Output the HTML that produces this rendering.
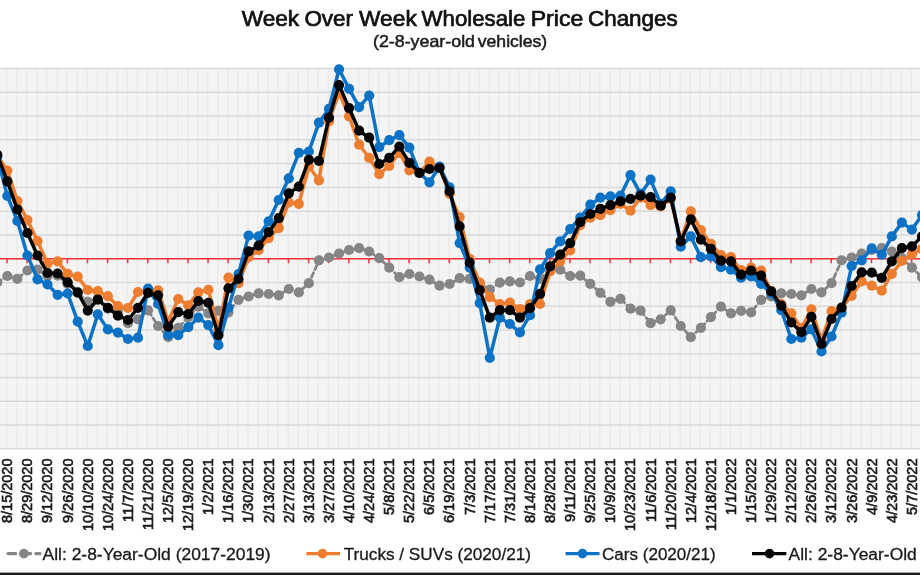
<!DOCTYPE html>
<html><head><meta charset="utf-8"><title>Week Over Week Wholesale Price Changes</title>
<style>
html,body{margin:0;padding:0;background:#fff;}
body{width:920px;height:575px;overflow:hidden;font-family:"Liberation Sans",sans-serif;}
svg{display:block;filter:blur(0.45px);}
text{font-family:"Liberation Sans",sans-serif;fill:#1a1a1a;}
</style></head><body>
<svg width="920" height="575" viewBox="0 0 920 575">
<defs>
<pattern id="hatch" width="2" height="2" patternUnits="userSpaceOnUse"><rect width="2" height="2" fill="#f7f7f7"/><rect x="0" y="0" width="1" height="1" fill="#f1f1f1"/><rect x="1" y="1" width="1" height="1" fill="#f1f1f1"/></pattern>
</defs>
<rect x="0" y="0" width="920" height="575" fill="#ffffff"/>
<rect x="0" y="68.6" width="920" height="380.1" fill="url(#hatch)"/>
<g stroke="#eaeaea" stroke-width="1.4">
<line x1="-3.30" y1="68.6" x2="-3.30" y2="448.7"/><line x1="6.75" y1="68.6" x2="6.75" y2="448.7"/><line x1="16.80" y1="68.6" x2="16.80" y2="448.7"/><line x1="26.85" y1="68.6" x2="26.85" y2="448.7"/><line x1="36.90" y1="68.6" x2="36.90" y2="448.7"/><line x1="46.95" y1="68.6" x2="46.95" y2="448.7"/><line x1="57.01" y1="68.6" x2="57.01" y2="448.7"/><line x1="67.06" y1="68.6" x2="67.06" y2="448.7"/><line x1="77.11" y1="68.6" x2="77.11" y2="448.7"/><line x1="87.16" y1="68.6" x2="87.16" y2="448.7"/><line x1="97.21" y1="68.6" x2="97.21" y2="448.7"/><line x1="107.26" y1="68.6" x2="107.26" y2="448.7"/><line x1="117.31" y1="68.6" x2="117.31" y2="448.7"/><line x1="127.36" y1="68.6" x2="127.36" y2="448.7"/><line x1="137.41" y1="68.6" x2="137.41" y2="448.7"/><line x1="147.46" y1="68.6" x2="147.46" y2="448.7"/><line x1="157.52" y1="68.6" x2="157.52" y2="448.7"/><line x1="167.57" y1="68.6" x2="167.57" y2="448.7"/><line x1="177.62" y1="68.6" x2="177.62" y2="448.7"/><line x1="187.67" y1="68.6" x2="187.67" y2="448.7"/><line x1="197.72" y1="68.6" x2="197.72" y2="448.7"/><line x1="207.77" y1="68.6" x2="207.77" y2="448.7"/><line x1="217.82" y1="68.6" x2="217.82" y2="448.7"/><line x1="227.87" y1="68.6" x2="227.87" y2="448.7"/><line x1="237.92" y1="68.6" x2="237.92" y2="448.7"/><line x1="247.97" y1="68.6" x2="247.97" y2="448.7"/><line x1="258.02" y1="68.6" x2="258.02" y2="448.7"/><line x1="268.08" y1="68.6" x2="268.08" y2="448.7"/><line x1="278.13" y1="68.6" x2="278.13" y2="448.7"/><line x1="288.18" y1="68.6" x2="288.18" y2="448.7"/><line x1="298.23" y1="68.6" x2="298.23" y2="448.7"/><line x1="308.28" y1="68.6" x2="308.28" y2="448.7"/><line x1="318.33" y1="68.6" x2="318.33" y2="448.7"/><line x1="328.38" y1="68.6" x2="328.38" y2="448.7"/><line x1="338.43" y1="68.6" x2="338.43" y2="448.7"/><line x1="348.48" y1="68.6" x2="348.48" y2="448.7"/><line x1="358.54" y1="68.6" x2="358.54" y2="448.7"/><line x1="368.59" y1="68.6" x2="368.59" y2="448.7"/><line x1="378.64" y1="68.6" x2="378.64" y2="448.7"/><line x1="388.69" y1="68.6" x2="388.69" y2="448.7"/><line x1="398.74" y1="68.6" x2="398.74" y2="448.7"/><line x1="408.79" y1="68.6" x2="408.79" y2="448.7"/><line x1="418.84" y1="68.6" x2="418.84" y2="448.7"/><line x1="428.89" y1="68.6" x2="428.89" y2="448.7"/><line x1="438.94" y1="68.6" x2="438.94" y2="448.7"/><line x1="448.99" y1="68.6" x2="448.99" y2="448.7"/><line x1="459.05" y1="68.6" x2="459.05" y2="448.7"/><line x1="469.10" y1="68.6" x2="469.10" y2="448.7"/><line x1="479.15" y1="68.6" x2="479.15" y2="448.7"/><line x1="489.20" y1="68.6" x2="489.20" y2="448.7"/><line x1="499.25" y1="68.6" x2="499.25" y2="448.7"/><line x1="509.30" y1="68.6" x2="509.30" y2="448.7"/><line x1="519.35" y1="68.6" x2="519.35" y2="448.7"/><line x1="529.40" y1="68.6" x2="529.40" y2="448.7"/><line x1="539.45" y1="68.6" x2="539.45" y2="448.7"/><line x1="549.50" y1="68.6" x2="549.50" y2="448.7"/><line x1="559.56" y1="68.6" x2="559.56" y2="448.7"/><line x1="569.61" y1="68.6" x2="569.61" y2="448.7"/><line x1="579.66" y1="68.6" x2="579.66" y2="448.7"/><line x1="589.71" y1="68.6" x2="589.71" y2="448.7"/><line x1="599.76" y1="68.6" x2="599.76" y2="448.7"/><line x1="609.81" y1="68.6" x2="609.81" y2="448.7"/><line x1="619.86" y1="68.6" x2="619.86" y2="448.7"/><line x1="629.91" y1="68.6" x2="629.91" y2="448.7"/><line x1="639.96" y1="68.6" x2="639.96" y2="448.7"/><line x1="650.01" y1="68.6" x2="650.01" y2="448.7"/><line x1="660.07" y1="68.6" x2="660.07" y2="448.7"/><line x1="670.12" y1="68.6" x2="670.12" y2="448.7"/><line x1="680.17" y1="68.6" x2="680.17" y2="448.7"/><line x1="690.22" y1="68.6" x2="690.22" y2="448.7"/><line x1="700.27" y1="68.6" x2="700.27" y2="448.7"/><line x1="710.32" y1="68.6" x2="710.32" y2="448.7"/><line x1="720.37" y1="68.6" x2="720.37" y2="448.7"/><line x1="730.42" y1="68.6" x2="730.42" y2="448.7"/><line x1="740.47" y1="68.6" x2="740.47" y2="448.7"/><line x1="750.52" y1="68.6" x2="750.52" y2="448.7"/><line x1="760.58" y1="68.6" x2="760.58" y2="448.7"/><line x1="770.63" y1="68.6" x2="770.63" y2="448.7"/><line x1="780.68" y1="68.6" x2="780.68" y2="448.7"/><line x1="790.73" y1="68.6" x2="790.73" y2="448.7"/><line x1="800.78" y1="68.6" x2="800.78" y2="448.7"/><line x1="810.83" y1="68.6" x2="810.83" y2="448.7"/><line x1="820.88" y1="68.6" x2="820.88" y2="448.7"/><line x1="830.93" y1="68.6" x2="830.93" y2="448.7"/><line x1="840.98" y1="68.6" x2="840.98" y2="448.7"/><line x1="851.03" y1="68.6" x2="851.03" y2="448.7"/><line x1="861.09" y1="68.6" x2="861.09" y2="448.7"/><line x1="871.14" y1="68.6" x2="871.14" y2="448.7"/><line x1="881.19" y1="68.6" x2="881.19" y2="448.7"/><line x1="891.24" y1="68.6" x2="891.24" y2="448.7"/><line x1="901.29" y1="68.6" x2="901.29" y2="448.7"/><line x1="911.34" y1="68.6" x2="911.34" y2="448.7"/><line x1="921.39" y1="68.6" x2="921.39" y2="448.7"/><line x1="931.44" y1="68.6" x2="931.44" y2="448.7"/>
</g>
<g stroke="#d9d9d9" stroke-width="1.5">
<line x1="0" y1="68.60" x2="920" y2="68.60"/><line x1="0" y1="92.36" x2="920" y2="92.36"/><line x1="0" y1="116.11" x2="920" y2="116.11"/><line x1="0" y1="139.87" x2="920" y2="139.87"/><line x1="0" y1="163.62" x2="920" y2="163.62"/><line x1="0" y1="187.38" x2="920" y2="187.38"/><line x1="0" y1="211.14" x2="920" y2="211.14"/><line x1="0" y1="234.89" x2="920" y2="234.89"/><line x1="0" y1="258.65" x2="920" y2="258.65"/><line x1="0" y1="282.41" x2="920" y2="282.41"/><line x1="0" y1="306.16" x2="920" y2="306.16"/><line x1="0" y1="329.92" x2="920" y2="329.92"/><line x1="0" y1="353.68" x2="920" y2="353.68"/><line x1="0" y1="377.43" x2="920" y2="377.43"/><line x1="0" y1="401.19" x2="920" y2="401.19"/><line x1="0" y1="424.94" x2="920" y2="424.94"/><line x1="0" y1="448.70" x2="920" y2="448.70"/>
</g>
<g stroke="#f93039" stroke-width="1.5"><line x1="0" y1="258.7" x2="920" y2="258.7"/><line x1="7.05" y1="258.7" x2="7.05" y2="263.2"/><line x1="27.15" y1="258.7" x2="27.15" y2="263.2"/><line x1="47.25" y1="258.7" x2="47.25" y2="263.2"/><line x1="67.36" y1="258.7" x2="67.36" y2="263.2"/><line x1="87.46" y1="258.7" x2="87.46" y2="263.2"/><line x1="107.56" y1="258.7" x2="107.56" y2="263.2"/><line x1="127.66" y1="258.7" x2="127.66" y2="263.2"/><line x1="147.76" y1="258.7" x2="147.76" y2="263.2"/><line x1="167.87" y1="258.7" x2="167.87" y2="263.2"/><line x1="187.97" y1="258.7" x2="187.97" y2="263.2"/><line x1="208.07" y1="258.7" x2="208.07" y2="263.2"/><line x1="228.17" y1="258.7" x2="228.17" y2="263.2"/><line x1="248.27" y1="258.7" x2="248.27" y2="263.2"/><line x1="268.38" y1="258.7" x2="268.38" y2="263.2"/><line x1="288.48" y1="258.7" x2="288.48" y2="263.2"/><line x1="308.58" y1="258.7" x2="308.58" y2="263.2"/><line x1="328.68" y1="258.7" x2="328.68" y2="263.2"/><line x1="348.78" y1="258.7" x2="348.78" y2="263.2"/><line x1="368.89" y1="258.7" x2="368.89" y2="263.2"/><line x1="388.99" y1="258.7" x2="388.99" y2="263.2"/><line x1="409.09" y1="258.7" x2="409.09" y2="263.2"/><line x1="429.19" y1="258.7" x2="429.19" y2="263.2"/><line x1="449.29" y1="258.7" x2="449.29" y2="263.2"/><line x1="469.40" y1="258.7" x2="469.40" y2="263.2"/><line x1="489.50" y1="258.7" x2="489.50" y2="263.2"/><line x1="509.60" y1="258.7" x2="509.60" y2="263.2"/><line x1="529.70" y1="258.7" x2="529.70" y2="263.2"/><line x1="549.80" y1="258.7" x2="549.80" y2="263.2"/><line x1="569.91" y1="258.7" x2="569.91" y2="263.2"/><line x1="590.01" y1="258.7" x2="590.01" y2="263.2"/><line x1="610.11" y1="258.7" x2="610.11" y2="263.2"/><line x1="630.21" y1="258.7" x2="630.21" y2="263.2"/><line x1="650.31" y1="258.7" x2="650.31" y2="263.2"/><line x1="670.42" y1="258.7" x2="670.42" y2="263.2"/><line x1="690.52" y1="258.7" x2="690.52" y2="263.2"/><line x1="710.62" y1="258.7" x2="710.62" y2="263.2"/><line x1="730.72" y1="258.7" x2="730.72" y2="263.2"/><line x1="750.82" y1="258.7" x2="750.82" y2="263.2"/><line x1="770.93" y1="258.7" x2="770.93" y2="263.2"/><line x1="791.03" y1="258.7" x2="791.03" y2="263.2"/><line x1="811.13" y1="258.7" x2="811.13" y2="263.2"/><line x1="831.23" y1="258.7" x2="831.23" y2="263.2"/><line x1="851.33" y1="258.7" x2="851.33" y2="263.2"/><line x1="871.44" y1="258.7" x2="871.44" y2="263.2"/><line x1="891.54" y1="258.7" x2="891.54" y2="263.2"/><line x1="911.64" y1="258.7" x2="911.64" y2="263.2"/><line x1="931.74" y1="258.7" x2="931.74" y2="263.2"/></g>
<g><polyline points="-2.70,282.50 7.35,276.00 17.40,278.80 27.45,270.50 37.50,269.60 47.55,276.00 57.61,275.60 67.66,283.90 77.71,292.80 87.76,301.80 97.81,298.80 107.86,308.70 117.91,310.70 127.96,323.20 138.01,319.30 148.06,310.30 158.12,326.00 168.17,337.20 178.22,327.80 188.27,317.10 198.32,306.70 208.37,313.30 218.42,310.80 228.47,312.30 238.52,299.80 248.57,296.50 258.62,293.30 268.68,294.00 278.73,295.30 288.78,289.00 298.83,292.30 308.88,283.20 318.93,260.40 328.98,257.50 339.03,253.50 349.08,250.00 359.14,248.20 369.19,251.50 379.24,258.20 389.29,267.70 399.34,277.20 409.39,274.00 419.44,276.50 429.49,279.70 439.54,285.70 449.59,284.00 459.65,278.20 469.70,278.90 479.75,283.90 489.80,289.60 499.85,282.60 509.90,281.40 519.95,282.50 530.00,276.00 540.05,278.80 550.10,270.50 560.16,269.60 570.21,276.00 580.26,275.60 590.31,283.90 600.36,292.80 610.41,301.80 620.46,298.80 630.51,308.70 640.56,310.70 650.61,323.20 660.67,319.30 670.72,310.30 680.77,326.00 690.82,337.20 700.87,327.80 710.92,317.10 720.97,306.70 731.02,313.30 741.07,310.80 751.12,312.30 761.18,299.80 771.23,296.50 781.28,293.30 791.33,294.00 801.38,295.30 811.43,289.00 821.48,292.30 831.53,283.20 841.58,260.40 851.63,257.50 861.69,253.50 871.74,250.00 881.79,248.20 891.84,251.50 901.89,258.20 911.94,267.70 921.99,277.20" fill="none" stroke="#858585" stroke-width="2.8" stroke-linejoin="round" stroke-linecap="round" stroke-dasharray="4.5 3.5"/>
<g fill="#858585"><circle cx="-2.70" cy="282.50" r="5.1"/><circle cx="7.35" cy="276.00" r="5.1"/><circle cx="17.40" cy="278.80" r="5.1"/><circle cx="27.45" cy="270.50" r="5.1"/><circle cx="37.50" cy="269.60" r="5.1"/><circle cx="47.55" cy="276.00" r="5.1"/><circle cx="57.61" cy="275.60" r="5.1"/><circle cx="67.66" cy="283.90" r="5.1"/><circle cx="77.71" cy="292.80" r="5.1"/><circle cx="87.76" cy="301.80" r="5.1"/><circle cx="97.81" cy="298.80" r="5.1"/><circle cx="107.86" cy="308.70" r="5.1"/><circle cx="117.91" cy="310.70" r="5.1"/><circle cx="127.96" cy="323.20" r="5.1"/><circle cx="138.01" cy="319.30" r="5.1"/><circle cx="148.06" cy="310.30" r="5.1"/><circle cx="158.12" cy="326.00" r="5.1"/><circle cx="168.17" cy="337.20" r="5.1"/><circle cx="178.22" cy="327.80" r="5.1"/><circle cx="188.27" cy="317.10" r="5.1"/><circle cx="198.32" cy="306.70" r="5.1"/><circle cx="208.37" cy="313.30" r="5.1"/><circle cx="218.42" cy="310.80" r="5.1"/><circle cx="228.47" cy="312.30" r="5.1"/><circle cx="238.52" cy="299.80" r="5.1"/><circle cx="248.57" cy="296.50" r="5.1"/><circle cx="258.62" cy="293.30" r="5.1"/><circle cx="268.68" cy="294.00" r="5.1"/><circle cx="278.73" cy="295.30" r="5.1"/><circle cx="288.78" cy="289.00" r="5.1"/><circle cx="298.83" cy="292.30" r="5.1"/><circle cx="308.88" cy="283.20" r="5.1"/><circle cx="318.93" cy="260.40" r="5.1"/><circle cx="328.98" cy="257.50" r="5.1"/><circle cx="339.03" cy="253.50" r="5.1"/><circle cx="349.08" cy="250.00" r="5.1"/><circle cx="359.14" cy="248.20" r="5.1"/><circle cx="369.19" cy="251.50" r="5.1"/><circle cx="379.24" cy="258.20" r="5.1"/><circle cx="389.29" cy="267.70" r="5.1"/><circle cx="399.34" cy="277.20" r="5.1"/><circle cx="409.39" cy="274.00" r="5.1"/><circle cx="419.44" cy="276.50" r="5.1"/><circle cx="429.49" cy="279.70" r="5.1"/><circle cx="439.54" cy="285.70" r="5.1"/><circle cx="449.59" cy="284.00" r="5.1"/><circle cx="459.65" cy="278.20" r="5.1"/><circle cx="469.70" cy="278.90" r="5.1"/><circle cx="479.75" cy="283.90" r="5.1"/><circle cx="489.80" cy="289.60" r="5.1"/><circle cx="499.85" cy="282.60" r="5.1"/><circle cx="509.90" cy="281.40" r="5.1"/><circle cx="519.95" cy="282.50" r="5.1"/><circle cx="530.00" cy="276.00" r="5.1"/><circle cx="540.05" cy="278.80" r="5.1"/><circle cx="550.10" cy="270.50" r="5.1"/><circle cx="560.16" cy="269.60" r="5.1"/><circle cx="570.21" cy="276.00" r="5.1"/><circle cx="580.26" cy="275.60" r="5.1"/><circle cx="590.31" cy="283.90" r="5.1"/><circle cx="600.36" cy="292.80" r="5.1"/><circle cx="610.41" cy="301.80" r="5.1"/><circle cx="620.46" cy="298.80" r="5.1"/><circle cx="630.51" cy="308.70" r="5.1"/><circle cx="640.56" cy="310.70" r="5.1"/><circle cx="650.61" cy="323.20" r="5.1"/><circle cx="660.67" cy="319.30" r="5.1"/><circle cx="670.72" cy="310.30" r="5.1"/><circle cx="680.77" cy="326.00" r="5.1"/><circle cx="690.82" cy="337.20" r="5.1"/><circle cx="700.87" cy="327.80" r="5.1"/><circle cx="710.92" cy="317.10" r="5.1"/><circle cx="720.97" cy="306.70" r="5.1"/><circle cx="731.02" cy="313.30" r="5.1"/><circle cx="741.07" cy="310.80" r="5.1"/><circle cx="751.12" cy="312.30" r="5.1"/><circle cx="761.18" cy="299.80" r="5.1"/><circle cx="771.23" cy="296.50" r="5.1"/><circle cx="781.28" cy="293.30" r="5.1"/><circle cx="791.33" cy="294.00" r="5.1"/><circle cx="801.38" cy="295.30" r="5.1"/><circle cx="811.43" cy="289.00" r="5.1"/><circle cx="821.48" cy="292.30" r="5.1"/><circle cx="831.53" cy="283.20" r="5.1"/><circle cx="841.58" cy="260.40" r="5.1"/><circle cx="851.63" cy="257.50" r="5.1"/><circle cx="861.69" cy="253.50" r="5.1"/><circle cx="871.74" cy="250.00" r="5.1"/><circle cx="881.79" cy="248.20" r="5.1"/><circle cx="891.84" cy="251.50" r="5.1"/><circle cx="901.89" cy="258.20" r="5.1"/><circle cx="911.94" cy="267.70" r="5.1"/><circle cx="921.99" cy="277.20" r="5.1"/></g></g>
<g><polyline points="-2.70,155.50 7.35,170.60 17.40,201.00 27.45,220.00 37.50,241.00 47.55,263.50 57.61,261.30 67.66,273.90 77.71,276.60 87.76,290.00 97.81,291.20 107.86,296.20 117.91,306.20 127.96,308.00 138.01,292.00 148.06,290.00 158.12,290.30 168.17,321.40 178.22,299.00 188.27,305.30 198.32,292.30 208.37,289.80 218.42,330.00 228.47,277.60 238.52,283.20 248.57,257.20 258.62,250.20 268.68,238.10 278.73,228.10 288.78,202.50 298.83,203.80 308.88,166.50 318.93,180.30 328.98,121.40 339.03,92.60 349.08,116.40 359.14,144.70 369.19,157.80 379.24,174.10 389.29,165.80 399.34,152.80 409.39,170.30 419.44,172.80 429.49,161.50 439.54,167.80 449.59,194.00 459.65,217.20 469.70,258.80 479.75,282.60 489.80,297.20 499.85,304.00 509.90,302.70 519.95,309.00 530.00,304.00 540.05,304.00 550.10,271.50 560.16,261.40 570.21,250.40 580.26,225.20 590.31,217.70 600.36,215.20 610.41,210.20 620.46,203.90 630.51,210.70 640.56,197.70 650.61,205.20 660.67,206.40 670.72,198.90 680.77,240.30 690.82,211.40 700.87,230.10 710.92,243.90 720.97,255.20 731.02,257.20 741.07,270.20 751.12,267.70 761.18,270.70 771.23,291.00 781.28,304.00 791.33,313.40 801.38,328.00 811.43,309.30 821.48,340.00 831.53,311.20 841.58,308.00 851.63,295.80 861.69,281.40 871.74,285.70 881.79,290.70 891.84,273.90 901.89,261.00 911.94,254.20 921.99,248.90" fill="none" stroke="#ee7d2f" stroke-width="3.5" stroke-linejoin="round" stroke-linecap="round"/>
<g fill="#ee7d2f"><circle cx="-2.70" cy="155.50" r="5.1"/><circle cx="7.35" cy="170.60" r="5.1"/><circle cx="17.40" cy="201.00" r="5.1"/><circle cx="27.45" cy="220.00" r="5.1"/><circle cx="37.50" cy="241.00" r="5.1"/><circle cx="47.55" cy="263.50" r="5.1"/><circle cx="57.61" cy="261.30" r="5.1"/><circle cx="67.66" cy="273.90" r="5.1"/><circle cx="77.71" cy="276.60" r="5.1"/><circle cx="87.76" cy="290.00" r="5.1"/><circle cx="97.81" cy="291.20" r="5.1"/><circle cx="107.86" cy="296.20" r="5.1"/><circle cx="117.91" cy="306.20" r="5.1"/><circle cx="127.96" cy="308.00" r="5.1"/><circle cx="138.01" cy="292.00" r="5.1"/><circle cx="148.06" cy="290.00" r="5.1"/><circle cx="158.12" cy="290.30" r="5.1"/><circle cx="168.17" cy="321.40" r="5.1"/><circle cx="178.22" cy="299.00" r="5.1"/><circle cx="188.27" cy="305.30" r="5.1"/><circle cx="198.32" cy="292.30" r="5.1"/><circle cx="208.37" cy="289.80" r="5.1"/><circle cx="218.42" cy="330.00" r="5.1"/><circle cx="228.47" cy="277.60" r="5.1"/><circle cx="238.52" cy="283.20" r="5.1"/><circle cx="248.57" cy="257.20" r="5.1"/><circle cx="258.62" cy="250.20" r="5.1"/><circle cx="268.68" cy="238.10" r="5.1"/><circle cx="278.73" cy="228.10" r="5.1"/><circle cx="288.78" cy="202.50" r="5.1"/><circle cx="298.83" cy="203.80" r="5.1"/><circle cx="308.88" cy="166.50" r="5.1"/><circle cx="318.93" cy="180.30" r="5.1"/><circle cx="328.98" cy="121.40" r="5.1"/><circle cx="339.03" cy="92.60" r="5.1"/><circle cx="349.08" cy="116.40" r="5.1"/><circle cx="359.14" cy="144.70" r="5.1"/><circle cx="369.19" cy="157.80" r="5.1"/><circle cx="379.24" cy="174.10" r="5.1"/><circle cx="389.29" cy="165.80" r="5.1"/><circle cx="399.34" cy="152.80" r="5.1"/><circle cx="409.39" cy="170.30" r="5.1"/><circle cx="419.44" cy="172.80" r="5.1"/><circle cx="429.49" cy="161.50" r="5.1"/><circle cx="439.54" cy="167.80" r="5.1"/><circle cx="449.59" cy="194.00" r="5.1"/><circle cx="459.65" cy="217.20" r="5.1"/><circle cx="469.70" cy="258.80" r="5.1"/><circle cx="479.75" cy="282.60" r="5.1"/><circle cx="489.80" cy="297.20" r="5.1"/><circle cx="499.85" cy="304.00" r="5.1"/><circle cx="509.90" cy="302.70" r="5.1"/><circle cx="519.95" cy="309.00" r="5.1"/><circle cx="530.00" cy="304.00" r="5.1"/><circle cx="540.05" cy="304.00" r="5.1"/><circle cx="550.10" cy="271.50" r="5.1"/><circle cx="560.16" cy="261.40" r="5.1"/><circle cx="570.21" cy="250.40" r="5.1"/><circle cx="580.26" cy="225.20" r="5.1"/><circle cx="590.31" cy="217.70" r="5.1"/><circle cx="600.36" cy="215.20" r="5.1"/><circle cx="610.41" cy="210.20" r="5.1"/><circle cx="620.46" cy="203.90" r="5.1"/><circle cx="630.51" cy="210.70" r="5.1"/><circle cx="640.56" cy="197.70" r="5.1"/><circle cx="650.61" cy="205.20" r="5.1"/><circle cx="660.67" cy="206.40" r="5.1"/><circle cx="670.72" cy="198.90" r="5.1"/><circle cx="680.77" cy="240.30" r="5.1"/><circle cx="690.82" cy="211.40" r="5.1"/><circle cx="700.87" cy="230.10" r="5.1"/><circle cx="710.92" cy="243.90" r="5.1"/><circle cx="720.97" cy="255.20" r="5.1"/><circle cx="731.02" cy="257.20" r="5.1"/><circle cx="741.07" cy="270.20" r="5.1"/><circle cx="751.12" cy="267.70" r="5.1"/><circle cx="761.18" cy="270.70" r="5.1"/><circle cx="771.23" cy="291.00" r="5.1"/><circle cx="781.28" cy="304.00" r="5.1"/><circle cx="791.33" cy="313.40" r="5.1"/><circle cx="801.38" cy="328.00" r="5.1"/><circle cx="811.43" cy="309.30" r="5.1"/><circle cx="821.48" cy="340.00" r="5.1"/><circle cx="831.53" cy="311.20" r="5.1"/><circle cx="841.58" cy="308.00" r="5.1"/><circle cx="851.63" cy="295.80" r="5.1"/><circle cx="861.69" cy="281.40" r="5.1"/><circle cx="871.74" cy="285.70" r="5.1"/><circle cx="881.79" cy="290.70" r="5.1"/><circle cx="891.84" cy="273.90" r="5.1"/><circle cx="901.89" cy="261.00" r="5.1"/><circle cx="911.94" cy="254.20" r="5.1"/><circle cx="921.99" cy="248.90" r="5.1"/></g></g>
<g><polyline points="-2.70,157.00 7.35,196.00 17.40,221.00 27.45,255.50 37.50,279.30 47.55,284.50 57.61,294.80 67.66,293.50 77.71,321.60 87.76,346.00 97.81,314.40 107.86,329.40 117.91,332.60 127.96,339.00 138.01,337.70 148.06,288.70 158.12,304.00 168.17,335.20 178.22,335.20 188.27,327.20 198.32,317.70 208.37,325.20 218.42,345.20 228.47,307.80 238.52,274.00 248.57,235.60 258.62,236.40 268.68,221.30 278.73,200.00 288.78,178.30 298.83,152.80 308.88,151.50 318.93,122.70 328.98,108.90 339.03,69.30 349.08,88.80 359.14,107.10 369.19,95.60 379.24,147.20 389.29,140.20 399.34,135.20 409.39,147.70 419.44,173.00 429.49,182.30 439.54,166.50 449.59,187.30 459.65,243.10 469.70,267.60 479.75,303.20 489.80,357.80 499.85,317.70 509.90,324.00 519.95,332.30 530.00,315.20 540.05,269.40 550.10,253.20 560.16,241.40 570.21,229.00 580.26,217.70 590.31,204.70 600.36,197.70 610.41,196.40 620.46,195.70 630.51,175.10 640.56,193.90 650.61,179.70 660.67,203.90 670.72,191.40 680.77,246.70 690.82,236.40 700.87,257.20 710.92,256.40 720.97,267.20 731.02,269.70 741.07,277.70 751.12,276.50 761.18,284.00 771.23,293.40 781.28,310.20 791.33,339.00 801.38,337.70 811.43,329.40 821.48,351.50 831.53,336.50 841.58,312.70 851.63,266.00 861.69,260.30 871.74,248.40 881.79,254.70 891.84,236.40 901.89,222.60 911.94,229.60 921.99,215.00" fill="none" stroke="#0b72c6" stroke-width="3.5" stroke-linejoin="round" stroke-linecap="round"/>
<g fill="#0b72c6"><circle cx="-2.70" cy="157.00" r="5.1"/><circle cx="7.35" cy="196.00" r="5.1"/><circle cx="17.40" cy="221.00" r="5.1"/><circle cx="27.45" cy="255.50" r="5.1"/><circle cx="37.50" cy="279.30" r="5.1"/><circle cx="47.55" cy="284.50" r="5.1"/><circle cx="57.61" cy="294.80" r="5.1"/><circle cx="67.66" cy="293.50" r="5.1"/><circle cx="77.71" cy="321.60" r="5.1"/><circle cx="87.76" cy="346.00" r="5.1"/><circle cx="97.81" cy="314.40" r="5.1"/><circle cx="107.86" cy="329.40" r="5.1"/><circle cx="117.91" cy="332.60" r="5.1"/><circle cx="127.96" cy="339.00" r="5.1"/><circle cx="138.01" cy="337.70" r="5.1"/><circle cx="148.06" cy="288.70" r="5.1"/><circle cx="158.12" cy="304.00" r="5.1"/><circle cx="168.17" cy="335.20" r="5.1"/><circle cx="178.22" cy="335.20" r="5.1"/><circle cx="188.27" cy="327.20" r="5.1"/><circle cx="198.32" cy="317.70" r="5.1"/><circle cx="208.37" cy="325.20" r="5.1"/><circle cx="218.42" cy="345.20" r="5.1"/><circle cx="228.47" cy="307.80" r="5.1"/><circle cx="238.52" cy="274.00" r="5.1"/><circle cx="248.57" cy="235.60" r="5.1"/><circle cx="258.62" cy="236.40" r="5.1"/><circle cx="268.68" cy="221.30" r="5.1"/><circle cx="278.73" cy="200.00" r="5.1"/><circle cx="288.78" cy="178.30" r="5.1"/><circle cx="298.83" cy="152.80" r="5.1"/><circle cx="308.88" cy="151.50" r="5.1"/><circle cx="318.93" cy="122.70" r="5.1"/><circle cx="328.98" cy="108.90" r="5.1"/><circle cx="339.03" cy="69.30" r="5.1"/><circle cx="349.08" cy="88.80" r="5.1"/><circle cx="359.14" cy="107.10" r="5.1"/><circle cx="369.19" cy="95.60" r="5.1"/><circle cx="379.24" cy="147.20" r="5.1"/><circle cx="389.29" cy="140.20" r="5.1"/><circle cx="399.34" cy="135.20" r="5.1"/><circle cx="409.39" cy="147.70" r="5.1"/><circle cx="419.44" cy="173.00" r="5.1"/><circle cx="429.49" cy="182.30" r="5.1"/><circle cx="439.54" cy="166.50" r="5.1"/><circle cx="449.59" cy="187.30" r="5.1"/><circle cx="459.65" cy="243.10" r="5.1"/><circle cx="469.70" cy="267.60" r="5.1"/><circle cx="479.75" cy="303.20" r="5.1"/><circle cx="489.80" cy="357.80" r="5.1"/><circle cx="499.85" cy="317.70" r="5.1"/><circle cx="509.90" cy="324.00" r="5.1"/><circle cx="519.95" cy="332.30" r="5.1"/><circle cx="530.00" cy="315.20" r="5.1"/><circle cx="540.05" cy="269.40" r="5.1"/><circle cx="550.10" cy="253.20" r="5.1"/><circle cx="560.16" cy="241.40" r="5.1"/><circle cx="570.21" cy="229.00" r="5.1"/><circle cx="580.26" cy="217.70" r="5.1"/><circle cx="590.31" cy="204.70" r="5.1"/><circle cx="600.36" cy="197.70" r="5.1"/><circle cx="610.41" cy="196.40" r="5.1"/><circle cx="620.46" cy="195.70" r="5.1"/><circle cx="630.51" cy="175.10" r="5.1"/><circle cx="640.56" cy="193.90" r="5.1"/><circle cx="650.61" cy="179.70" r="5.1"/><circle cx="660.67" cy="203.90" r="5.1"/><circle cx="670.72" cy="191.40" r="5.1"/><circle cx="680.77" cy="246.70" r="5.1"/><circle cx="690.82" cy="236.40" r="5.1"/><circle cx="700.87" cy="257.20" r="5.1"/><circle cx="710.92" cy="256.40" r="5.1"/><circle cx="720.97" cy="267.20" r="5.1"/><circle cx="731.02" cy="269.70" r="5.1"/><circle cx="741.07" cy="277.70" r="5.1"/><circle cx="751.12" cy="276.50" r="5.1"/><circle cx="761.18" cy="284.00" r="5.1"/><circle cx="771.23" cy="293.40" r="5.1"/><circle cx="781.28" cy="310.20" r="5.1"/><circle cx="791.33" cy="339.00" r="5.1"/><circle cx="801.38" cy="337.70" r="5.1"/><circle cx="811.43" cy="329.40" r="5.1"/><circle cx="821.48" cy="351.50" r="5.1"/><circle cx="831.53" cy="336.50" r="5.1"/><circle cx="841.58" cy="312.70" r="5.1"/><circle cx="851.63" cy="266.00" r="5.1"/><circle cx="861.69" cy="260.30" r="5.1"/><circle cx="871.74" cy="248.40" r="5.1"/><circle cx="881.79" cy="254.70" r="5.1"/><circle cx="891.84" cy="236.40" r="5.1"/><circle cx="901.89" cy="222.60" r="5.1"/><circle cx="911.94" cy="229.60" r="5.1"/><circle cx="921.99" cy="215.00" r="5.1"/></g></g>
<g><polyline points="-2.70,154.80 7.35,181.30 17.40,209.50 27.45,233.00 37.50,255.50 47.55,273.00 57.61,273.50 67.66,282.30 77.71,292.30 87.76,310.60 97.81,299.60 107.86,307.80 117.91,315.60 127.96,320.00 138.01,307.80 148.06,292.80 158.12,295.30 168.17,326.70 178.22,312.10 188.27,314.20 198.32,301.00 208.37,302.80 218.42,335.20 228.47,288.30 238.52,279.00 248.57,251.40 258.62,245.60 268.68,232.10 278.73,218.10 288.78,193.30 298.83,186.60 308.88,159.80 318.93,160.80 328.98,117.70 339.03,85.10 349.08,108.10 359.14,130.70 369.19,137.70 379.24,164.00 389.29,157.80 399.34,146.50 409.39,162.80 419.44,172.80 429.49,169.00 439.54,168.00 449.59,191.40 459.65,226.40 469.70,262.70 479.75,290.20 489.80,317.70 499.85,310.20 509.90,310.20 519.95,317.70 530.00,308.20 540.05,293.90 550.10,266.40 560.16,254.70 570.21,243.10 580.26,222.20 590.31,214.00 600.36,208.90 610.41,205.20 620.46,201.40 630.51,198.90 640.56,195.70 650.61,197.20 660.67,205.70 670.72,197.70 680.77,241.40 690.82,219.30 700.87,239.60 710.92,248.90 720.97,260.70 731.02,261.40 741.07,274.70 751.12,270.70 761.18,275.70 771.23,291.40 781.28,305.70 791.33,322.50 801.38,332.20 811.43,316.90 821.48,344.00 831.53,319.00 841.58,307.70 851.63,286.00 861.69,272.40 871.74,272.60 881.79,277.80 891.84,261.40 901.89,248.10 911.94,246.40 921.99,236.40" fill="none" stroke="#050505" stroke-width="3.5" stroke-linejoin="round" stroke-linecap="round"/>
<g fill="#050505"><circle cx="-2.70" cy="154.80" r="5.1"/><circle cx="7.35" cy="181.30" r="5.1"/><circle cx="17.40" cy="209.50" r="5.1"/><circle cx="27.45" cy="233.00" r="5.1"/><circle cx="37.50" cy="255.50" r="5.1"/><circle cx="47.55" cy="273.00" r="5.1"/><circle cx="57.61" cy="273.50" r="5.1"/><circle cx="67.66" cy="282.30" r="5.1"/><circle cx="77.71" cy="292.30" r="5.1"/><circle cx="87.76" cy="310.60" r="5.1"/><circle cx="97.81" cy="299.60" r="5.1"/><circle cx="107.86" cy="307.80" r="5.1"/><circle cx="117.91" cy="315.60" r="5.1"/><circle cx="127.96" cy="320.00" r="5.1"/><circle cx="138.01" cy="307.80" r="5.1"/><circle cx="148.06" cy="292.80" r="5.1"/><circle cx="158.12" cy="295.30" r="5.1"/><circle cx="168.17" cy="326.70" r="5.1"/><circle cx="178.22" cy="312.10" r="5.1"/><circle cx="188.27" cy="314.20" r="5.1"/><circle cx="198.32" cy="301.00" r="5.1"/><circle cx="208.37" cy="302.80" r="5.1"/><circle cx="218.42" cy="335.20" r="5.1"/><circle cx="228.47" cy="288.30" r="5.1"/><circle cx="238.52" cy="279.00" r="5.1"/><circle cx="248.57" cy="251.40" r="5.1"/><circle cx="258.62" cy="245.60" r="5.1"/><circle cx="268.68" cy="232.10" r="5.1"/><circle cx="278.73" cy="218.10" r="5.1"/><circle cx="288.78" cy="193.30" r="5.1"/><circle cx="298.83" cy="186.60" r="5.1"/><circle cx="308.88" cy="159.80" r="5.1"/><circle cx="318.93" cy="160.80" r="5.1"/><circle cx="328.98" cy="117.70" r="5.1"/><circle cx="339.03" cy="85.10" r="5.1"/><circle cx="349.08" cy="108.10" r="5.1"/><circle cx="359.14" cy="130.70" r="5.1"/><circle cx="369.19" cy="137.70" r="5.1"/><circle cx="379.24" cy="164.00" r="5.1"/><circle cx="389.29" cy="157.80" r="5.1"/><circle cx="399.34" cy="146.50" r="5.1"/><circle cx="409.39" cy="162.80" r="5.1"/><circle cx="419.44" cy="172.80" r="5.1"/><circle cx="429.49" cy="169.00" r="5.1"/><circle cx="439.54" cy="168.00" r="5.1"/><circle cx="449.59" cy="191.40" r="5.1"/><circle cx="459.65" cy="226.40" r="5.1"/><circle cx="469.70" cy="262.70" r="5.1"/><circle cx="479.75" cy="290.20" r="5.1"/><circle cx="489.80" cy="317.70" r="5.1"/><circle cx="499.85" cy="310.20" r="5.1"/><circle cx="509.90" cy="310.20" r="5.1"/><circle cx="519.95" cy="317.70" r="5.1"/><circle cx="530.00" cy="308.20" r="5.1"/><circle cx="540.05" cy="293.90" r="5.1"/><circle cx="550.10" cy="266.40" r="5.1"/><circle cx="560.16" cy="254.70" r="5.1"/><circle cx="570.21" cy="243.10" r="5.1"/><circle cx="580.26" cy="222.20" r="5.1"/><circle cx="590.31" cy="214.00" r="5.1"/><circle cx="600.36" cy="208.90" r="5.1"/><circle cx="610.41" cy="205.20" r="5.1"/><circle cx="620.46" cy="201.40" r="5.1"/><circle cx="630.51" cy="198.90" r="5.1"/><circle cx="640.56" cy="195.70" r="5.1"/><circle cx="650.61" cy="197.20" r="5.1"/><circle cx="660.67" cy="205.70" r="5.1"/><circle cx="670.72" cy="197.70" r="5.1"/><circle cx="680.77" cy="241.40" r="5.1"/><circle cx="690.82" cy="219.30" r="5.1"/><circle cx="700.87" cy="239.60" r="5.1"/><circle cx="710.92" cy="248.90" r="5.1"/><circle cx="720.97" cy="260.70" r="5.1"/><circle cx="731.02" cy="261.40" r="5.1"/><circle cx="741.07" cy="274.70" r="5.1"/><circle cx="751.12" cy="270.70" r="5.1"/><circle cx="761.18" cy="275.70" r="5.1"/><circle cx="771.23" cy="291.40" r="5.1"/><circle cx="781.28" cy="305.70" r="5.1"/><circle cx="791.33" cy="322.50" r="5.1"/><circle cx="801.38" cy="332.20" r="5.1"/><circle cx="811.43" cy="316.90" r="5.1"/><circle cx="821.48" cy="344.00" r="5.1"/><circle cx="831.53" cy="319.00" r="5.1"/><circle cx="841.58" cy="307.70" r="5.1"/><circle cx="851.63" cy="286.00" r="5.1"/><circle cx="861.69" cy="272.40" r="5.1"/><circle cx="871.74" cy="272.60" r="5.1"/><circle cx="881.79" cy="277.80" r="5.1"/><circle cx="891.84" cy="261.40" r="5.1"/><circle cx="901.89" cy="248.10" r="5.1"/><circle cx="911.94" cy="246.40" r="5.1"/><circle cx="921.99" cy="236.40" r="5.1"/></g></g>
<g font-size="14.5" text-anchor="end" stroke="#1a1a1a" stroke-width="0.6">
<text transform="translate(12.25,458.5) rotate(-90)">8/15/2020</text><text transform="translate(32.35,458.5) rotate(-90)">8/29/2020</text><text transform="translate(52.45,458.5) rotate(-90)">9/12/2020</text><text transform="translate(72.56,458.5) rotate(-90)">9/26/2020</text><text transform="translate(92.66,458.5) rotate(-90)">10/10/2020</text><text transform="translate(112.76,458.5) rotate(-90)">10/24/2020</text><text transform="translate(132.86,458.5) rotate(-90)">11/7/2020</text><text transform="translate(152.96,458.5) rotate(-90)">11/21/2020</text><text transform="translate(173.07,458.5) rotate(-90)">12/5/2020</text><text transform="translate(193.17,458.5) rotate(-90)">12/19/2020</text><text transform="translate(213.27,458.5) rotate(-90)">1/2/2021</text><text transform="translate(233.37,458.5) rotate(-90)">1/16/2021</text><text transform="translate(253.47,458.5) rotate(-90)">1/30/2021</text><text transform="translate(273.58,458.5) rotate(-90)">2/13/2021</text><text transform="translate(293.68,458.5) rotate(-90)">2/27/2021</text><text transform="translate(313.78,458.5) rotate(-90)">3/13/2021</text><text transform="translate(333.88,458.5) rotate(-90)">3/27/2021</text><text transform="translate(353.98,458.5) rotate(-90)">4/10/2021</text><text transform="translate(374.09,458.5) rotate(-90)">4/24/2021</text><text transform="translate(394.19,458.5) rotate(-90)">5/8/2021</text><text transform="translate(414.29,458.5) rotate(-90)">5/22/2021</text><text transform="translate(434.39,458.5) rotate(-90)">6/5/2021</text><text transform="translate(454.49,458.5) rotate(-90)">6/19/2021</text><text transform="translate(474.60,458.5) rotate(-90)">7/3/2021</text><text transform="translate(494.70,458.5) rotate(-90)">7/17/2021</text><text transform="translate(514.80,458.5) rotate(-90)">7/31/2021</text><text transform="translate(534.90,458.5) rotate(-90)">8/14/2021</text><text transform="translate(555.00,458.5) rotate(-90)">8/28/2021</text><text transform="translate(575.11,458.5) rotate(-90)">9/11/2021</text><text transform="translate(595.21,458.5) rotate(-90)">9/25/2021</text><text transform="translate(615.31,458.5) rotate(-90)">10/9/2021</text><text transform="translate(635.41,458.5) rotate(-90)">10/23/2021</text><text transform="translate(655.51,458.5) rotate(-90)">11/6/2021</text><text transform="translate(675.62,458.5) rotate(-90)">11/20/2021</text><text transform="translate(695.72,458.5) rotate(-90)">12/4/2021</text><text transform="translate(715.82,458.5) rotate(-90)">12/18/2021</text><text transform="translate(735.92,458.5) rotate(-90)">1/1/2022</text><text transform="translate(756.02,458.5) rotate(-90)">1/15/2022</text><text transform="translate(776.13,458.5) rotate(-90)">1/29/2022</text><text transform="translate(796.23,458.5) rotate(-90)">2/12/2022</text><text transform="translate(816.33,458.5) rotate(-90)">2/26/2022</text><text transform="translate(836.43,458.5) rotate(-90)">3/12/2022</text><text transform="translate(856.53,458.5) rotate(-90)">3/26/2022</text><text transform="translate(876.64,458.5) rotate(-90)">4/9/2022</text><text transform="translate(896.74,458.5) rotate(-90)">4/23/2022</text><text transform="translate(916.84,458.5) rotate(-90)">5/7/2022</text>
</g>
<text x="241.7" y="26.1" font-size="21.8" textLength="57.5" lengthAdjust="spacingAndGlyphs" style="fill:#111" stroke="#111" stroke-width="0.7">Week</text><text x="304.4" y="26.1" font-size="21.8" textLength="48.7" lengthAdjust="spacingAndGlyphs" style="fill:#111" stroke="#111" stroke-width="0.7">Over</text><text x="359.0" y="26.1" font-size="21.8" textLength="57.8" lengthAdjust="spacingAndGlyphs" style="fill:#111" stroke="#111" stroke-width="0.7">Week</text><text x="421.5" y="26.1" font-size="21.8" textLength="103.9" lengthAdjust="spacingAndGlyphs" style="fill:#111" stroke="#111" stroke-width="0.7">Wholesale</text><text x="530.7" y="26.1" font-size="21.8" textLength="52.7" lengthAdjust="spacingAndGlyphs" style="fill:#111" stroke="#111" stroke-width="0.7">Price</text><text x="588.0" y="26.1" font-size="21.8" textLength="89.7" lengthAdjust="spacingAndGlyphs" style="fill:#111" stroke="#111" stroke-width="0.7">Changes</text>
<text x="373.0" y="47.1" font-size="16.5" textLength="102.0" lengthAdjust="spacingAndGlyphs" style="fill:#1c1c1c" stroke="#1c1c1c" stroke-width="0.5">(2-8-year-old</text><text x="477.8" y="47.1" font-size="16.5" textLength="69.4" lengthAdjust="spacingAndGlyphs" style="fill:#1c1c1c" stroke="#1c1c1c" stroke-width="0.5">vehicles)</text>
<g stroke="#858585" stroke-width="3.1" stroke-linecap="round"><line x1="8" y1="553.6" x2="15.8" y2="553.6"/><line x1="28" y1="553.6" x2="30.7" y2="553.6"/><line x1="35.8" y1="553.6" x2="40" y2="553.6"/></g><circle cx="23.9" cy="553.6" r="4.9" fill="#858585"/>
<text x="42.6" y="559.5" font-size="17.3" textLength="228.0" lengthAdjust="spacingAndGlyphs" stroke="#1a1a1a" stroke-width="0.3">All: 2-8-Year-Old (2017-2019)</text>
<line x1="306.3" y1="553.6" x2="340" y2="553.6" stroke="#ee7d2f" stroke-width="3.3"/><circle cx="322.5" cy="553.6" r="4.8" fill="#ee7d2f"/>
<text x="343.7" y="559.5" font-size="17.3" textLength="187.3" lengthAdjust="spacingAndGlyphs" stroke="#1a1a1a" stroke-width="0.3">Trucks / SUVs (2020/21)</text>
<line x1="565.5" y1="553.6" x2="599.5" y2="553.6" stroke="#0b72c6" stroke-width="3.3"/><circle cx="582.5" cy="553.6" r="4.8" fill="#0b72c6"/>
<text x="602.0" y="559.5" font-size="17.3" textLength="113.7" lengthAdjust="spacingAndGlyphs" stroke="#1a1a1a" stroke-width="0.3">Cars (2020/21)</text>
<line x1="752" y1="553.6" x2="786.3" y2="553.6" stroke="#050505" stroke-width="3.3"/><circle cx="769.5" cy="553.6" r="4.8" fill="#050505"/>
<text x="788.6" y="559.5" font-size="17.3" textLength="207.6" lengthAdjust="spacingAndGlyphs" stroke="#1a1a1a" stroke-width="0.3">All: 2-8-Year-Old (2020/21)</text>
<rect x="-2" y="572.6" width="924" height="4" fill="#1c1c1c"/>
</svg>
</body></html>
